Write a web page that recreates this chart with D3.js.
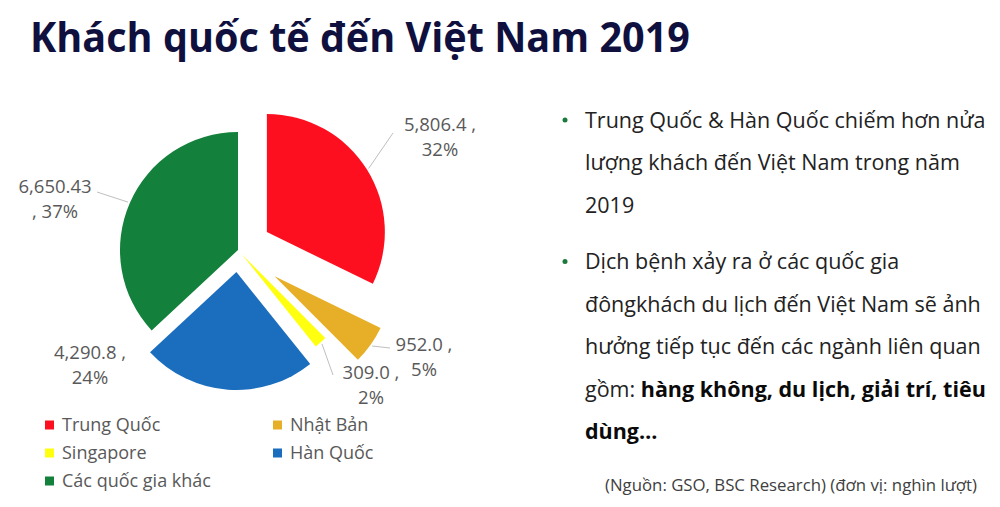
<!DOCTYPE html>
<html lang="vi">
<head>
  <meta charset="UTF-8" />
  <title>Khách quốc tế đến Việt Nam 2019</title>
  <script src="https://d3js.org/d3.v7.min.js"></script>
  <style>
    body {
      margin: 0;
      background: #fff;
      font-family: "Open Sans", "Noto Sans", sans-serif;
    }
    svg {
      display: block;
    }
    .lbl {
      fill: #595959;
      font-size: 18.5px;
    }
    .legend text {
      fill: #595959;
      font-size: 18px;
    }
    .notes text {
      fill: #222;
      font-size: 21.5px;
    }
    .notes .b {
      font-weight: bold;
      fill: #0a0a0a;
    }
  </style>
</head>
<body>
  <svg width="1000" height="507"></svg>

  <script>
    // data (nghìn lượt), clockwise from 12 o'clock
    const countries = ["Trung Quốc", "Nhật Bản", "Singapore", "Hàn Quốc", "Các quốc gia khác"];
    const visitors = [5806.4, 952.0, 309.0, 4290.8, 6650.43];
    const colors = ["#fe0f1f", "#e7af27", "#ffff10", "#1b6ebd", "#13803b"];

    // exploded distance of each slice
    const explode = [34, 45, 6, 22, 0];

    // label placement (first line, relative to pie centre), leader end, where the line breaks
    const labelLayout = [
      { x: 202, y: -125, lead: [155, -117], breakBefore: false },
      { x: 186, y: 95, lead: [152, 98], breakBefore: false },
      { x: 133, y: 123, lead: [95, 125], breakBefore: false },
      { x: -148, y: 103, lead: null, breakBefore: false },
      { x: -183, y: -63, lead: [-141, -58], breakBefore: true }
    ];

    const notes = [
      [
        [["Trung Quốc & Hàn Quốc chiếm hơn nửa", false]],
        [["lượng khách đến Việt Nam trong năm", false]],
        [["2019", false]]
      ],
      [
        [["Dịch bệnh xảy ra ở các quốc gia", false]],
        [["đôngkhách du lịch đến Việt Nam sẽ ảnh", false]],
        [["hưởng tiếp tục đến các ngành liên quan", false]],
        [["gồm: ", false], ["hàng không, du lịch, giải trí, tiêu", true]],
        [["dùng…", true]]
      ]
    ];
    const source = "(Nguồn: GSO, BSC Research) (đơn vị: nghìn lượt)";

    const svg = d3.select("svg");

    // title
    svg.append("text")
      .attr("x", 30)
      .attr("y", 52)
      .attr("textLength", 660)
      .attr("lengthAdjust", "spacingAndGlyphs")
      .style("font-size", "42px")
      .style("font-weight", "bold")
      .style("fill", "#10103f")
      .text("Khách quốc tế đến Việt Nam 2019");

    // pie
    const cx = 238, cy = 250, radius = 118;
    const total = d3.sum(visitors);
    const fmtPct = d3.format(".0%");
    const fmtVal = v => (Math.round(v * 10) === v * 10 ? d3.format(",.1f")(v) : d3.format(",.2f")(v));

    const pie = d3.pie().sort(null).value(d => d)(visitors);
    const arc = d3.arc().innerRadius(0).outerRadius(radius);

    const chart = svg.append("g").attr("transform", `translate(${cx},${cy})`);

    const dir = a => [Math.sin(a), -Math.cos(a)];

    chart.selectAll("path.slice")
      .data(pie)
      .enter()
      .append("path")
      .attr("class", "slice")
      .attr("d", arc)
      .attr("fill", (d, i) => colors[i])
      .attr("transform", (d, i) => {
        const m = dir((d.startAngle + d.endAngle) / 2);
        return `translate(${m[0] * explode[i]},${m[1] * explode[i]})`;
      });

    // leader lines
    pie.forEach((d, i) => {
      const L = labelLayout[i];
      if (!L.lead) return;
      const m = dir((d.startAngle + d.endAngle) / 2);
      const r = explode[i] + radius + 2;
      chart.append("line")
        .attr("x1", m[0] * r)
        .attr("y1", m[1] * r)
        .attr("x2", L.lead[0])
        .attr("y2", L.lead[1])
        .attr("stroke", "#bfbfbf")
        .attr("stroke-width", 1);
    });

    // data labels
    pie.forEach((d, i) => {
      const L = labelLayout[i];
      const v = fmtVal(visitors[i]);
      const p = fmtPct(visitors[i] / total);
      const lines = L.breakBefore ? [v, ", " + p] : [v + " ,", p];
      const t = chart.append("text")
        .attr("class", "lbl")
        .attr("text-anchor", "middle");
      lines.forEach((s, k) => {
        t.append("tspan")
          .attr("x", L.x)
          .attr("y", L.y + k * 25)
          .attr("dy", "0.35em")
          .text(s);
      });
    });

    // legend
    const legend = svg.append("g").attr("class", "legend");
    countries.forEach((c, i) => {
      const gx = 45 + (i % 2) * 228;
      const gy = 425 + Math.floor(i / 2) * 28;
      legend.append("rect")
        .attr("x", gx)
        .attr("y", gy - 4.5)
        .attr("width", 9)
        .attr("height", 9)
        .attr("fill", colors[i]);
      legend.append("text")
        .attr("x", gx + 17)
        .attr("y", gy)
        .attr("dy", "0.35em")
        .text(c);
    });

    // notes on the right
    const noteG = svg.append("g").attr("class", "notes");
    let y = 120;
    notes.forEach(par => {
      noteG.append("circle")
        .attr("cx", 565)
        .attr("cy", y)
        .attr("r", 2.5)
        .attr("fill", "#1b7a3a");
      par.forEach(line => {
        const t = noteG.append("text")
          .attr("x", 585)
          .attr("y", y)
          .attr("dy", "0.35em");
        line.forEach(([s, bold]) => {
          t.append("tspan").attr("class", bold ? "b" : null).text(s);
        });
        y += 42.5;
      });
      y += 14;
    });

    svg.append("text")
      .attr("x", 791)
      .attr("y", 485)
      .attr("dy", "0.35em")
      .attr("text-anchor", "middle")
      .style("font-size", "16.8px")
      .style("fill", "#404040")
      .text(source);
  </script>
</body>
</html>
